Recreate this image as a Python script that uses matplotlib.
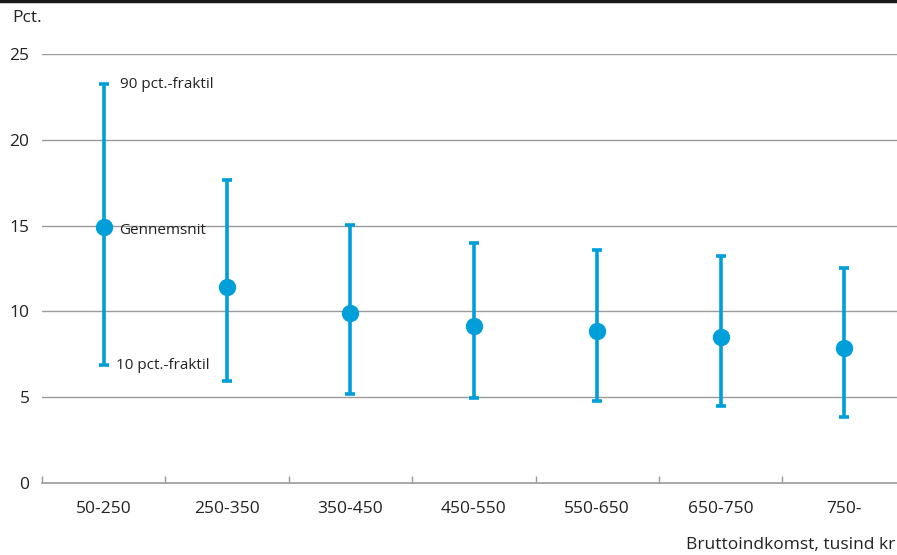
import matplotlib
matplotlib.use("Agg")
import matplotlib.pyplot as plt
import numpy as np

categories = ["50-250", "250-350", "350-450", "450-550", "550-650", "650-750", "750-"]
mean_vals = [14.9, 11.45, 9.9, 9.15, 8.85, 8.5, 7.85]
p90_vals = [23.25, 17.65, 15.05, 14.0, 13.6, 13.2, 12.55]
p10_vals = [6.9, 5.95, 5.2, 4.95, 4.75, 4.5, 3.85]
yticks = [0, 5, 10, 15, 20, 25]

plt.rcParams['font.family'] = ['Open Sans', 'DejaVu Sans']
blue = "#009FDA"
grid_c = "#9a9a9a"
txt_c = "#222222"

fig = plt.figure(figsize=(8.97, 5.55), dpi=100)
ax = fig.add_axes([42/897, (555-483)/555, 1 - 42/897, (483-54)/555])

x = np.arange(len(categories))
mean = np.array(mean_vals)
lo = mean - np.array(p10_vals)
hi = np.array(p90_vals) - mean
ax.errorbar(x, mean, yerr=[lo, hi], fmt='o', color=blue, ecolor=blue,
            elinewidth=2.6, capsize=3.8, capthick=2.6, markersize=11.5, zorder=3)

ax.set_yticks(yticks)
ax.set_yticklabels([str(t) for t in yticks], fontsize=12.5, color=txt_c)
for t in yticks[1:]:
    ax.axhline(t, color=grid_c, lw=1.0, zorder=1)
ax.tick_params(axis='y', length=0, pad=9)
ax.set_xticks(np.arange(-0.5, 7, 1.0), minor=False)
ax.set_xticklabels([])
ax.set_xticks(x, minor=True)
ax.set_xticklabels(categories, minor=True, fontsize=12.5, color=txt_c)
ax.tick_params(axis='x', which='major', direction='in', length=5, color=grid_c, width=1)
ax.tick_params(axis='x', which='minor', length=0, pad=13)
ax.set_ylim(0, 25)
ax.set_xlim(-0.5, 6.43)
for s in ['top', 'right', 'left']:
    ax.spines[s].set_visible(False)
ax.spines['bottom'].set_color(grid_c)
ax.spines['bottom'].set_linewidth(1.2)

ax.annotate("90 pct.-fraktil", xy=(x[0], p90_vals[0]), xytext=(12, 0),
            textcoords='offset points', va='center', ha='left', fontsize=11, color=txt_c)
ax.annotate("Gennemsnit", xy=(x[0], mean_vals[0]), xytext=(11, -2),
            textcoords='offset points', va='center', ha='left', fontsize=11, color=txt_c)
ax.annotate("10 pct.-fraktil", xy=(x[0], p10_vals[0]), xytext=(9, -1),
            textcoords='offset points', va='center', ha='left', fontsize=11, color=txt_c)

fig.text(12/897, 1 - 18/555, "Pct.", fontsize=12.5, color=txt_c, va='center', ha='left')
fig.text(895/897, 1 - 545/555, "Bruttoindkomst, tusind kr", fontsize=12.5, color=txt_c,
         va='center', ha='right')
fig.add_artist(plt.Line2D([0, 1], [1 - 1/555, 1 - 1/555], color='#1a1a1a', lw=2.5,
                          transform=fig.transFigure))

fig.savefig("out.png", dpi=100)
